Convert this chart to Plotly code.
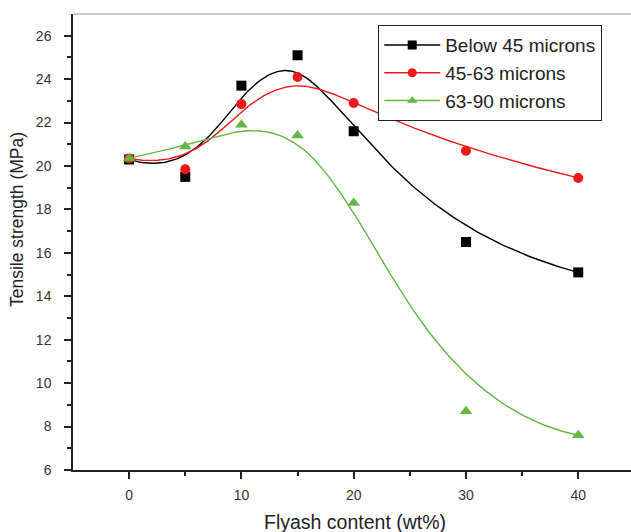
import numpy as np
import plotly.graph_objects as go

# Flyash content (wt%) and tensile strength (MPa) for each particle size range
flyash = [0, 5, 10, 15, 20, 30, 40]
below_45 = [20.3, 19.5, 23.7, 25.1, 21.6, 16.5, 15.1]
r45_63 = [20.35, 19.85, 22.85, 24.1, 22.9, 20.7, 19.45]
r63_90 = [20.35, 20.9, 21.9, 21.4, 18.3, 8.7, 7.6]

series_names = ["Below 45 microns", "45-63 microns", "63-90 microns"]
colors = ["#000000", "#f01818", "#62b843"]
symbols = ["square", "circle", "triangle-up"]

x_major = [0, 10, 20, 30, 40]
x_minor = [5, 15, 25, 35]
y_major = list(range(6, 27, 2))
y_minor = list(range(7, 27, 2))


def bspline_curve(xs, ys, degree=3, samples=300):
    """Clamped uniform B-spline using the data points as control points."""
    pts = np.column_stack([xs, ys]).astype(float)
    n = len(pts)
    inner = np.arange(1, n - degree)
    knots = np.concatenate([np.zeros(degree + 1), inner, np.full(degree + 1, n - degree)])
    ts = np.linspace(0, n - degree, samples)

    def basis(i, k, t):
        if k == 0:
            if knots[i] <= t < knots[i + 1]:
                return 1.0
            if t == knots[-1] and knots[i] < t <= knots[i + 1]:
                return 1.0
            return 0.0
        a = 0.0
        d1 = knots[i + k] - knots[i]
        if d1 > 0:
            a += (t - knots[i]) / d1 * basis(i, k - 1, t)
        d2 = knots[i + k + 1] - knots[i + 1]
        if d2 > 0:
            a += (knots[i + k + 1] - t) / d2 * basis(i + 1, k - 1, t)
        return a

    out = np.array([sum(basis(i, degree, t) * pts[i] for i in range(n)) for t in ts])
    return out[:, 0], out[:, 1]


fig = go.Figure()
for name, ys, col, sym in zip(series_names, [below_45, r45_63, r63_90], colors, symbols):
    cx, cy = bspline_curve(flyash, ys)
    fig.add_trace(go.Scatter(x=cx, y=cy, mode="lines", line=dict(color=col, width=1.4),
                             showlegend=False, hoverinfo="skip"))
    fig.add_trace(go.Scatter(x=flyash, y=ys, mode="markers", name=name,
                             marker=dict(symbol=sym, color=col,
                                         size=11 if sym == "triangle-up" else 10),
                             showlegend=False))
    # legend entry: line with marker
    fig.add_trace(go.Scatter(x=[None], y=[None], mode="lines+markers", name=name,
                             line=dict(color=col, width=1.4),
                             marker=dict(symbol=sym, color=col, size=9)))

ink = "#222222"
axis_font = dict(family="Liberation Sans, Arial, sans-serif", size=14, color="#333333")

W, H, L, R, T, B = 631, 532, 73, 0, 14, 62
plot_w = W - L - R
plot_h = H - T - B

fig.update_layout(
    template="simple_white",
    width=W, height=H,
    margin=dict(l=L, r=R, t=T, b=B),
    plot_bgcolor="white", paper_bgcolor="white",
    font=dict(family="Liberation Sans, Arial, sans-serif", color=ink),
    legend=dict(x=(378 - L) / plot_w, y=1 - (25 - T) / plot_h, xanchor="left", yanchor="top",
                bordercolor=ink, borderwidth=1.2,
                font=dict(size=19, color=ink),
                bgcolor="white", itemwidth=56, tracegroupgap=0),
    xaxis=dict(range=[-5, 44.7], tickvals=x_major,
               ticks="outside", ticklen=7, tickwidth=1.5, tickcolor=ink,
               minor=dict(tickvals=x_minor, ticks="outside", ticklen=4,
                          tickwidth=1.5, tickcolor=ink),
               showline=True, linecolor=ink, linewidth=1.5, mirror=False,
               ticklabelstandoff=4,
               showgrid=False, zeroline=False, tickfont=axis_font),
    yaxis=dict(range=[6, 27], tickvals=y_major,
               ticks="outside", ticklen=7, tickwidth=1.5, tickcolor=ink,
               minor=dict(tickvals=y_minor, ticks="outside", ticklen=4,
                          tickwidth=1.5, tickcolor=ink),
               showline=True, linecolor=ink, linewidth=1.5, mirror=False,
               ticklabelstandoff=10,
               showgrid=False, zeroline=False, tickfont=axis_font),
    shapes=[
        # keep the open right side of the frame clean
        dict(type="rect", xref="paper", yref="paper", x0=1 - 12 / plot_w, x1=1,
             y0=2 / plot_h, y1=1 - 2 / plot_h, fillcolor="white",
             line=dict(width=0), layer="above"),
        # top edge of the frame
        dict(type="line", xref="paper", yref="paper", x0=0, x1=1, y0=1, y1=1,
             line=dict(color=ink, width=1.5)),
    ],
    annotations=[
        dict(text="Flyash content (wt%)", xref="paper", yref="paper",
             x=(355 - L) / plot_w, y=-(522 - T - plot_h) / plot_h,
             xanchor="center", yanchor="middle",
             showarrow=False, font=dict(size=19.5, color=ink)),
        dict(text="Tensile strength (MPa)", xref="paper", yref="paper",
             x=-(73 - 17) / plot_w, y=1 - (220 - T) / plot_h,
             xanchor="center", yanchor="middle", showarrow=False,
             textangle=-90, font=dict(size=17.5, color=ink)),
    ],
)

fig.write_html("out.html")
